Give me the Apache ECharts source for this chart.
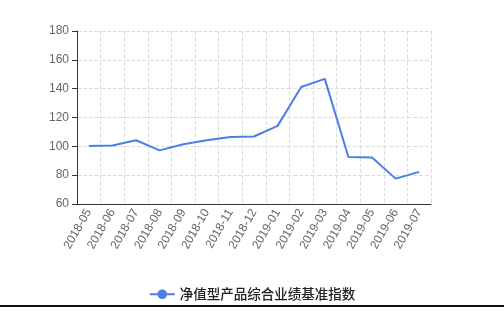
<!DOCTYPE html>
<html><head><meta charset="utf-8">
<script src="https://cdn.jsdelivr.net/npm/echarts@6/dist/echarts.min.js"></script>
<style>html,body{margin:0;padding:0;background:#fff;}#c{width:504px;height:311px;}#ln{position:absolute;left:0;top:305px;width:504px;height:2px;background:#111;}</style>
</head><body><div id="c"></div><div id="ln"></div>
<script>
const categories = ['2018-05','2018-06','2018-07','2018-08','2018-09','2018-10','2018-11','2018-12','2019-01','2019-02','2019-03','2019-04','2019-05','2019-06','2019-07'];
const seriesName = '净值型产品综合业绩基准指数';
const values = [100.2, 100.6, 104.2, 97.2, 101.5, 104.2, 106.4, 106.8, 114.2, 141.2, 146.8, 92.6, 92.2, 77.6, 82.3];
const yTicks = {min: 60, max: 180, interval: 20};
const chart = echarts.init(document.getElementById('c'));
chart.setOption({
  animation: false,
  grid: {left: 77, right: 73, top: 31, bottom: 107},
  legend: {
    bottom: 5, left: 'center', itemWidth: 25, itemHeight: 12, itemGap: 10,
    textStyle: {fontFamily: 'Noto Sans CJK SC', fontSize: 13.5, color: '#222', fontWeight: 500},
    data: [seriesName]
  },
  xAxis: {
    type: 'category', data: categories, boundaryGap: true,
    axisLine: {lineStyle: {color: '#333'}},
    axisTick: {alignWithLabel: true, lineStyle: {color: '#333'}},
    axisLabel: {rotate: 60, color: '#666', fontSize: 12, interval: 0, margin: 6},
    splitLine: {show: true, lineStyle: {type: 'dashed', color: '#ddd'}}
  },
  yAxis: {
    type: 'value', min: yTicks.min, max: yTicks.max, interval: yTicks.interval,
    axisLine: {show: true, lineStyle: {color: '#333'}},
    axisTick: {show: true, lineStyle: {color: '#333'}},
    axisLabel: {color: '#666', fontSize: 12},
    splitLine: {lineStyle: {type: 'dashed', color: '#ddd'}}
  },
  series: [{
    name: seriesName, type: 'line', data: values,
    symbol: 'circle', symbolSize: 8, showSymbol: false,
    itemStyle: {color: '#4a7fe6'},
    lineStyle: {color: '#4a7fe6', width: 2}
  }]
});
</script></body></html>
